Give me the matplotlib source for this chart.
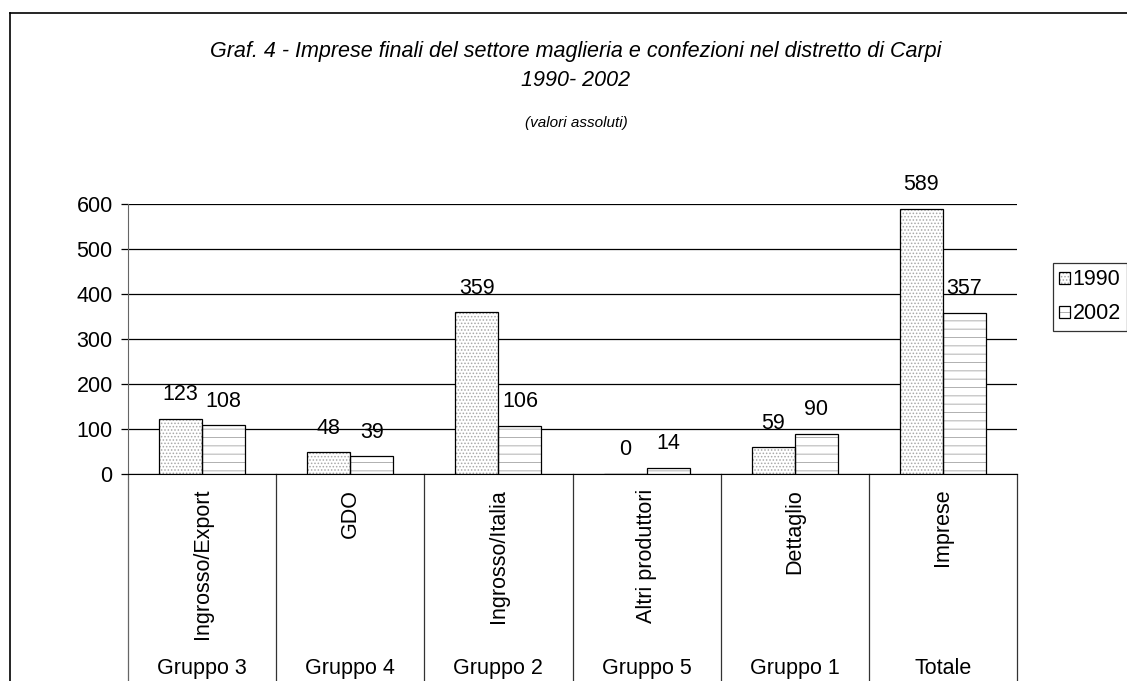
import matplotlib
matplotlib.use("Agg")
import matplotlib.pyplot as plt
from matplotlib.lines import Line2D
from matplotlib.legend_handler import HandlerTuple
import numpy as np

plt.rcParams['font.family'] = ['Liberation Sans', 'DejaVu Sans']
plt.rcParams['hatch.linewidth'] = 0.7

# data
categorie = ["Ingrosso/Export", "GDO", "Ingrosso/Italia", "Altri produttori", "Dettaglio", "Imprese"]
gruppi = ["Gruppo 3", "Gruppo 4", "Gruppo 2", "Gruppo 5", "Gruppo 1", "Totale"]
anni = ["1990", "2002"]
valori_1990 = [123, 48, 359, 0, 59, 589]
valori_2002 = [108, 39, 106, 14, 90, 357]
y_ticks = [0, 100, 200, 300, 400, 500, 600]

FS = 15.5
W, H = 1127, 681
fig = plt.figure(figsize=(W / 100, H / 100), dpi=100)
ax = fig.add_axes([128 / W, 1 - 474 / H, (1017 - 128) / W, (474 - 204) / H])

x = np.arange(len(categorie))
bw = 0.29

# hatched fills (hatch colour follows edge colour, so outlines are drawn separately)
h1 = ax.bar(x - bw / 2, valori_1990, bw, color='white', edgecolor='#a8a8a8', hatch='.....', linewidth=0, zorder=3)
h2 = ax.bar(x + bw / 2, valori_2002, bw, color='white', edgecolor='#b0b0b0', hatch='--', linewidth=0, zorder=3)
o1 = ax.bar(x - bw / 2, valori_1990, bw, fill=False, edgecolor='black', linewidth=0.9, zorder=4)
o2 = ax.bar(x + bw / 2, valori_2002, bw, fill=False, edgecolor='black', linewidth=0.9, zorder=4)

for xi, v in zip(x - bw / 2, valori_1990):
    ax.annotate(str(v), (xi, v), xytext=(0, 10), textcoords='offset points',
                ha='center', va='bottom', fontsize=FS)
for xi, v in zip(x + bw / 2, valori_2002):
    ax.annotate(str(v), (xi, v), xytext=(0, 10), textcoords='offset points',
                ha='center', va='bottom', fontsize=FS)

ax.set_xlim(-0.5, len(categorie) - 0.5)
ax.set_ylim(0, 600)
ax.set_yticks(y_ticks)
ax.tick_params(axis='y', labelsize=FS, length=5, width=0.9, pad=6)
ax.set_xticks([])
ax.yaxis.grid(True, color='black', linewidth=0.9)
ax.set_axisbelow(True)
for s in ['top', 'right']:
    ax.spines[s].set_visible(False)
ax.spines['left'].set_color('#666666')
ax.spines['bottom'].set_color('black')

# category table below the axis
tr = ax.get_xaxis_transform()
for i in range(len(categorie) + 1):
    ax.plot([i - 0.5, i - 0.5], [0, -0.9], transform=tr, clip_on=False,
            color='#333333' if i else '#666666', linewidth=0.9)
for i, (c, g) in enumerate(zip(categorie, gruppi)):
    ax.text(i, -0.055, c, transform=tr, rotation=90, ha='center', va='top', fontsize=FS)
    ax.text(i, -0.72, g, transform=tr, ha='center', va='center', fontsize=FS)

# titles
fig.text(576 / W, 1 - 52 / H, "Graf. 4 - Imprese finali del settore maglieria e confezioni nel distretto di Carpi",
         ha='center', va='center', fontsize=FS, style='italic')
fig.text(576 / W, 1 - 80 / H, "1990- 2002", ha='center', va='center', fontsize=FS, style='italic')
fig.text(576 / W, 1 - 123 / H, "(valori assoluti)", ha='center', va='center', fontsize=11, style='italic')

# legend
leg = fig.legend([(h1, o1), (h2, o2)], anni, handler_map={tuple: HandlerTuple(ndivide=1)},
                 loc='upper left', bbox_to_anchor=(1053 / W, 1 - 263 / H), fontsize=FS,
                 frameon=True, fancybox=False, edgecolor='black', handlelength=0.5,
                 handleheight=0.5, handletextpad=0.1, borderpad=0.3, labelspacing=0.6,
                 borderaxespad=0)
leg.get_frame().set_linewidth(0.9)

# outer chart frame
fig.add_artist(Line2D([10 / W, 1], [1 - 13 / H, 1 - 13 / H], color='black', linewidth=1.2))
fig.add_artist(Line2D([10 / W, 10 / W], [0, 1 - 13 / H], color='black', linewidth=1.2))

fig.savefig("out.png", dpi=100)
